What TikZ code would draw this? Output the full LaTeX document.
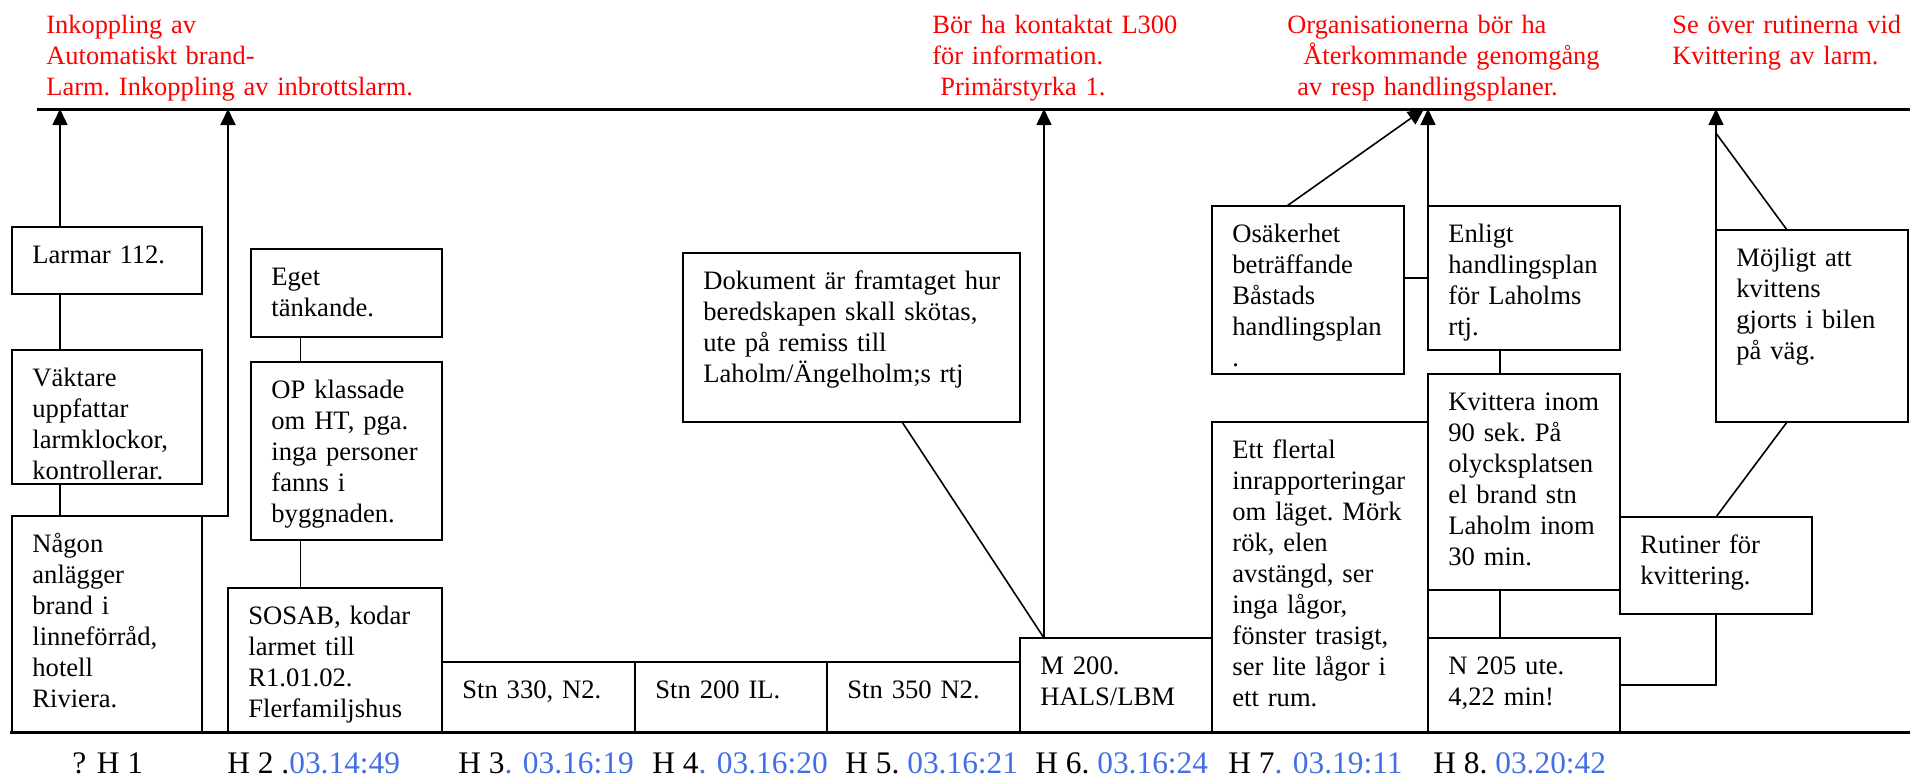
\documentclass[tikz,border=0pt]{standalone}
\usepackage{fontspec}
\setmainfont{Liberation Serif}
\usetikzlibrary{fit,calc,arrows.meta}

\definecolor{tidblue}{RGB}{66,110,230}

\tikzset{
  box/.style={draw, line width=1pt, inner sep=0pt, outer sep=0pt},
  txt/.style={inner sep=0pt, anchor=base west, align=left, text width=#1,
    font=\fontsize{13.3}{15.5}\selectfont\frenchspacing},
  txt/.default=86pt,
  note/.style={txt=#1, text=red, font=\fontsize{13.2}{15.5}\selectfont\frenchspacing},
  link/.style={line width=.8pt},
  up/.style={link, -{Triangle[width=7.5pt,length=8pt]}},
  tid/.style={inner sep=0pt, anchor=base west, font=\fontsize{15.7}{18}\selectfont}
}

\begin{document}
\begin{tikzpicture}[x=.5pt, y=-.5pt]
  \useasboundingbox (0,0) rectangle (1910,776);

  \coordinate (top-l) at (37,109);
  \coordinate (top-r) at (1910,109);
  \coordinate (bot-l) at (10,732);
  \coordinate (bot-r) at (1910,732);
  \draw[line width=1.5pt] (top-l) -- (top-r);
  \draw[line width=1.5pt] (bot-l) -- (bot-r);

  \foreach \n/\x in {1/60,2/228,3/1044,4/1428,5/1716}
    \coordinate (a\n) at (\x,109);

  % anteckningar
  \node[note=190pt] (note1) at (46,33) {Inkoppling av\\Automatiskt brand-\\Larm. Inkoppling av inbrottslarm.};
  \node[note=130pt] (note2) at (932,33) {Bör ha kontaktat L300\\för information.\\\hspace*{4pt}Primärstyrka 1.};
  \node[note=170pt] (note3) at (1287,33) {Organisationerna bör ha\\\hspace*{8pt}Återkommande genomgång\\\hspace*{5pt}av resp handlingsplaner.};
  \node[note=116pt] (note4) at (1672,33) {Se över rutinerna vid\\Kvittering av larm.};

  % rutor
  \node[box, fit={(12,227) (202,294)}] (larmar) {};
  \node[box, fit={(12,350) (202,484)}] (vaktare) {};
  \node[box, fit={(12,516) (202,732)}] (nagon) {};
  \node[box, fit={(251,249) (442,337)}] (eget) {};
  \node[box, fit={(251,362) (442,540)}] (op) {};
  \node[box, fit={(228,588) (442,732)}] (sosab) {};
  \node[box, fit={(442,662) (635,732)}] (stn330) {};
  \node[box, fit={(635,662) (827,732)}] (stn200) {};
  \node[box, fit={(827,662) (1020,732)}] (stn350) {};
  \node[box, fit={(1020,638) (1212,732)}] (m200) {};
  \node[box, fit={(683,253) (1020,422)}] (dokument) {};
  \node[box, fit={(1212,206) (1404,374)}] (osak) {};
  \node[box, fit={(1428,206) (1620,350)}] (enligt) {};
  \node[box, fit={(1212,422) (1428,732)}] (flertal) {};
  \node[box, fit={(1428,374) (1620,590)}] (kvitt) {};
  \node[box, fit={(1428,638) (1620,732)}] (n205) {};
  \node[box, fit={(1620,517) (1812,614)}] (rutiner) {};
  \node[box, fit={(1716,230) (1908,422)}] (mojligt) {};

  \node[txt] (larmar-t) at ([shift={(20,36)}]larmar.north west) {Larmar 112.};
  \node[txt] (vaktare-t) at ([shift={(20,36)}]vaktare.north west) {Väktare\\uppfattar\\larmklockor,\\kontrollerar.};
  \node[txt] (nagon-t) at ([shift={(20,36)}]nagon.north west) {Någon\\anlägger\\brand i\\linneförråd,\\hotell\\Riviera.};
  \node[txt] (eget-t) at ([shift={(20,36)}]eget.north west) {Eget\\tänkande.};
  \node[txt] (op-t) at ([shift={(20,36)}]op.north west) {OP klassade\\om HT, pga.\\inga personer\\fanns i\\byggnaden.};
  \node[txt=96pt] (sosab-t) at ([shift={(20,36)}]sosab.north west) {SOSAB, kodar\\larmet till\\R1.01.02.\\Flerfamiljshus};
  \node[txt] (stn330-t) at ([shift={(20,36)}]stn330.north west) {Stn 330, N2.};
  \node[txt] (stn200-t) at ([shift={(20,36)}]stn200.north west) {Stn 200 IL.};
  \node[txt] (stn350-t) at ([shift={(20,36)}]stn350.north west) {Stn 350 N2.};
  \node[txt] (m200-t) at ([shift={(20,36)}]m200.north west) {M 200.\\HALS/LBM};
  \node[txt=160pt] (dokument-t) at ([shift={(20,36)}]dokument.north west) {Dokument är framtaget hur\\beredskapen skall skötas,\\ute på remiss till\\Laholm/Ängelholm;s rtj};
  \node[txt] (osak-t) at ([shift={(20,36)}]osak.north west) {Osäkerhet\\beträffande\\Båstads\\handlingsplan\\.};
  \node[txt] (enligt-t) at ([shift={(20,36)}]enligt.north west) {Enligt\\handlingsplan\\för Laholms\\rtj.};
  \node[txt=96pt] (flertal-t) at ([shift={(20,36)}]flertal.north west) {Ett flertal\\inrapporteringar\\om läget. Mörk\\rök, elen\\avstängd, ser\\inga lågor,\\fönster trasigt,\\ser lite lågor i\\ett rum.};
  \node[txt] (kvitt-t) at ([shift={(20,36)}]kvitt.north west) {Kvittera inom\\90 sek. På\\olycksplatsen\\el brand stn\\Laholm inom\\30 min.};
  \node[txt] (n205-t) at ([shift={(20,36)}]n205.north west) {N 205 ute.\\4,22 min!};
  \node[txt] (rutiner-t) at ([shift={(20,36)}]rutiner.north west) {Rutiner för\\kvittering.};
  \node[txt] (mojligt-t) at ([shift={(20,36)}]mojligt.north west) {Möjligt att\\kvittens\\gjorts i bilen\\på väg.};

  % kopplingar
  \draw[up] (larmar.north -| a1) -- (a1);
  \draw[link] (larmar.south -| a1) -- (vaktare.north -| a1);
  \draw[link] (vaktare.south -| a1) -- (nagon.north -| a1);
  \draw[up, line width=1pt] (nagon.north east) -- (nagon.north east -| a2) -- (a2);

  \coordinate (c-op) at ($(eget.south west)!.26!(eget.south east)$);
  \draw[link] (c-op) -- (op.north -| c-op);
  \draw[link] (op.south -| c-op) -- (sosab.north -| c-op);

  \draw[up] (m200.north -| a3) -- (a3);
  \draw[link] ($(dokument.south west)!.65!(dokument.south east)$) -- (m200.north -| a3);

  \draw[up] ($(osak.north west)!.39!(osak.north east)$) -- ([xshift=-2pt]a4);
  \draw[link] (osak.east |- enligt.west) -- (enligt.west);
  \draw[up] (enligt.north west) -- (a4);

  \coordinate (c-kv) at ($(enligt.south west)!.375!(enligt.south east)$);
  \draw[link] (c-kv) -- (kvitt.north -| c-kv);
  \draw[link] (kvitt.south -| c-kv) -- (n205.north -| c-kv);

  \draw[link] (n205.east) -| (rutiner.south);
  \draw[link] (rutiner.north) -- ($(mojligt.south west)!.37!(mojligt.south east)$);
  \draw[up] (mojligt.north west) -- (a5);
  \draw[link] ($(mojligt.north west)!.37!(mojligt.north east)$) -- ($(mojligt.north west)!.8!(a5)$);

  % tider
  \foreach \n/\x/\h/\t in {1/72/{? H 1}/{}, 2/227/{H 2 .}/{03.14:49}, 3/458/{H 3}/{. 03.16:19},
      4/652/{H 4}/{. 03.16:20}, 5/845/{H 5.}/{\ 03.16:21}, 6/1035/{H 6.}/{\ 03.16:24},
      7/1228/{H 7}/{. 03.19:11}, 8/1433/{H 8.}/{\ 03.20:42}}
    \node[tid] (tid\n) at (\x,773) {\h\textcolor{tidblue}{\t}};
\end{tikzpicture}
\end{document}
